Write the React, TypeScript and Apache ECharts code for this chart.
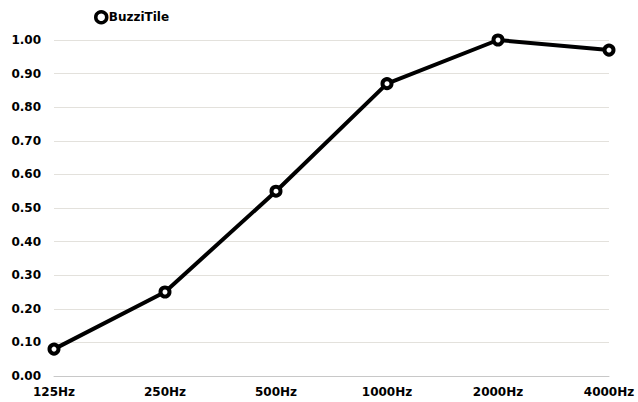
import React, { useEffect, useRef } from "react";
import * as echarts from "echarts";

const categories = ["125Hz", "250Hz", "500Hz", "1000Hz", "2000Hz", "4000Hz"];
const seriesName = "BuzziTile";
const values = [0.08, 0.25, 0.55, 0.87, 1.0, 0.97];

const FONT = "'DejaVu Sans', sans-serif";

export default function App() {
  const ref = useRef<HTMLDivElement>(null);
  useEffect(() => {
    if (!ref.current) return;
    const chart = echarts.init(ref.current, undefined, { renderer: "svg" });
    chart.setOption({
      animation: false,
      backgroundColor: "#ffffff",
      legend: {
        left: 89,
        top: 5,
        itemWidth: 11,
        itemHeight: 11,
        itemGap: 4,
        data: [
          {
            name: seriesName,
            icon: "circle",
            itemStyle: { color: "#fff", borderColor: "#000", borderWidth: 3.5 },
          },
        ],
        textStyle: { fontFamily: FONT, fontWeight: "bold", fontSize: 12, color: "#000", padding: [0, 0, 0, -3] },
      },
      grid: { left: 54, right: 29, top: 40, bottom: 26, containLabel: false },
      xAxis: {
        type: "category",
        data: categories,
        boundaryGap: false,
        axisLine: { show: true, lineStyle: { color: "#c8c8c8", width: 1 } },
        axisTick: { show: false },
        axisLabel: {
          margin: 10,
          fontFamily: FONT,
          fontWeight: "bold",
          fontSize: 12,
          color: "#000",
        },
      },
      yAxis: {
        type: "value",
        min: 0,
        max: 1,
        interval: 0.1,
        axisLine: { show: false },
        axisTick: { show: false },
        splitLine: { lineStyle: { color: "#e3e1dc", width: 1 } },
        axisLabel: {
          margin: 13,
          fontFamily: FONT,
          fontWeight: "bold",
          fontSize: 12,
          color: "#000",
          formatter: (v: number) => v.toFixed(2),
        },
      },
      series: [
        {
          name: seriesName,
          type: "line",
          data: values,
          symbol: "circle",
          symbolSize: 9,
          lineStyle: { color: "#000", width: 4 },
          itemStyle: { color: "#fff", borderColor: "#000", borderWidth: 4 },
        },
      ],
    });
    return () => chart.dispose();
  }, []);
  return (
    <div
      ref={ref}
      style={{ position: "fixed", left: 0, top: 0, width: 638, height: 402 }}
    />
  );
}
